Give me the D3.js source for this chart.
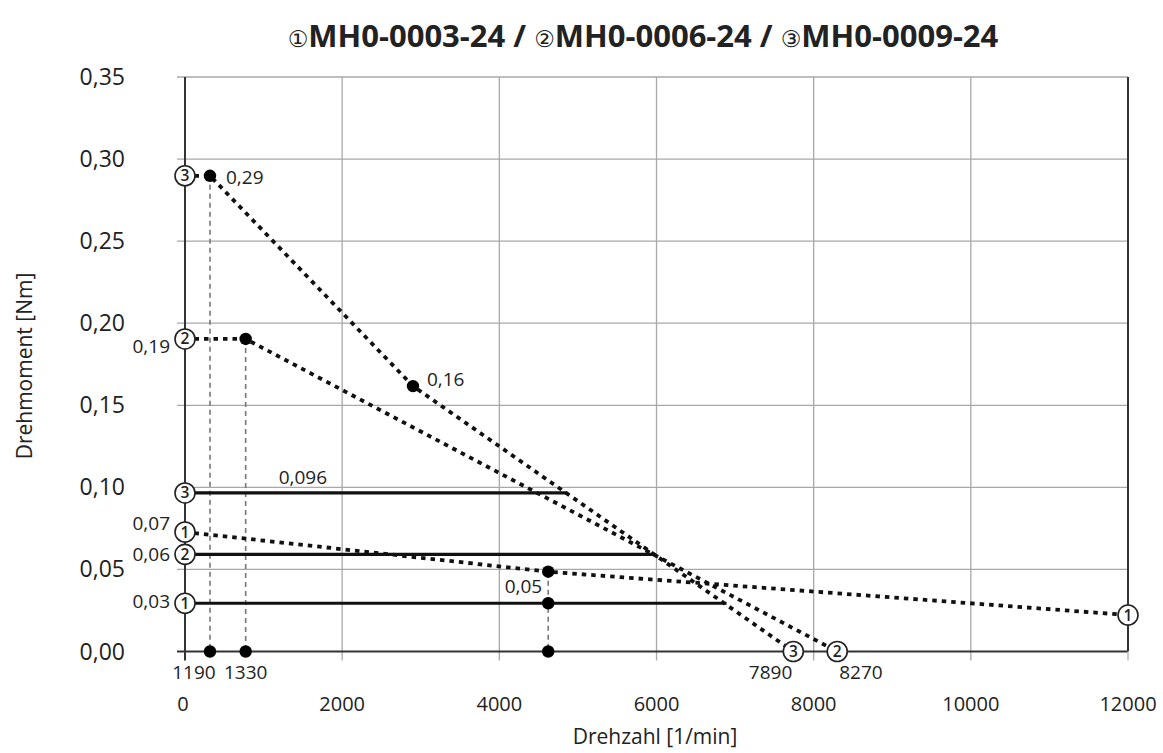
<!DOCTYPE html>
<html>
<head>
<meta charset="utf-8">
<script src="https://cdn.jsdelivr.net/npm/d3@7"></script>
<style>
  body { margin: 0; background: #fff; }
  text { font-family: "Open Sans", "DejaVu Sans", sans-serif; fill: #222; }
</style>
</head>
<body>
<svg id="chart" width="1163" height="753"></svg>
<script>
// chart values
const speedTicks = [0, 2000, 4000, 6000, 8000, 10000, 12000];
const torqueTicks = [0, 0.05, 0.10, 0.15, 0.20, 0.25, 0.30, 0.35];
const torqueTickLabels = ["0,00", "0,05", "0,10", "0,15", "0,20", "0,25", "0,30", "0,35"];

const titleParts = [["①", "MH0-0003-24 / "], ["②", "MH0-0006-24 / "], ["③", "MH0-0009-24"]];

// dotted characteristic curves, one per motor
const curve1Speed = [0, 4622, 12000];
const curve1Torque = [0.0728, 0.0486, 0.0222];
const curve2Speed = [0, 772, 8300];
const curve2Torque = [0.1904, 0.1904, 0];
const curve3Speed = [0, 318, 2901, 7741];
const curve3Torque = [0.2898, 0.2898, 0.1617, 0];

// solid continuous torque lines
const limitSeries = ["1", "2", "3"];
const limitSpeed = [6892, 5980, 4860];
const limitTorque = [0.0294, 0.0592, 0.0966];

// black dots
const dotSpeed = [318, 772, 2901, 4622, 4622, 4622, 318, 772];
const dotTorque = [0.2898, 0.1904, 0.1617, 0.0486, 0.0294, 0, 0, 0];

// dashed drop lines
const dropSpeed = [318, 772, 4622];
const dropTorque = [0.2898, 0.1904, 0.0486];

// numbered circle markers
const markerLabel = ["3", "2", "3", "1", "2", "1", "1", "3", "2"];
const markerSpeed = [0, 0, 0, 0, 0, 0, 12000, 7741, 8300];
const markerTorque = [0.2898, 0.1904, 0.0966, 0.0728, 0.0592, 0.0294, 0.0222, 0, 0];

// value annotations
const annoText = ["0,29", "0,19", "0,16", "0,096", "0,07", "0,06", "0,03", "0,05", "1190", "1330", "7890", "8270"];
const annoSpeed = [318, 0, 2901, 1500, 0, 0, 0, 4622, 318, 772, 7741, 8300];
const annoTorque = [0.2898, 0.1904, 0.1617, 0.0966, 0.0728, 0.0592, 0.0294, 0.0486, 0, 0, 0, 0];

const svg = d3.select("#chart");

const x = d3.scaleLinear().domain([0, 12000]).range([185, 1128]);
const y = d3.scaleLinear().domain([0, 0.35]).range([651.5, 77]);

// grid
svg.append("g").selectAll("line.v")
  .data(speedTicks.slice(1, -1))
  .enter().append("line")
  .attr("x1", d => x(d)).attr("x2", d => x(d))
  .attr("y1", y(0.35)).attr("y2", y(0) + 9)
  .attr("stroke", "#a8a8a8").attr("stroke-width", 1.3);

svg.append("g").selectAll("line.h")
  .data(torqueTicks)
  .enter().append("line")
  .attr("x1", x(0) - 8).attr("x2", x(12000))
  .attr("y1", d => y(d)).attr("y2", d => y(d))
  .attr("stroke", d => d === 0 ? "#333" : "#a8a8a8")
  .attr("stroke-width", d => d === 0 ? 2 : 1.3);

// frame
svg.append("line")
  .attr("x1", x(0)).attr("x2", x(0)).attr("y1", y(0.35)).attr("y2", y(0) + 9)
  .attr("stroke", "#333").attr("stroke-width", 2);
svg.append("line")
  .attr("x1", x(12000)).attr("x2", x(12000)).attr("y1", y(0.35)).attr("y2", y(0))
  .attr("stroke", "#333").attr("stroke-width", 2);
svg.append("line")
  .attr("x1", x(12000)).attr("x2", x(12000)).attr("y1", y(0)).attr("y2", y(0) + 9)
  .attr("stroke", "#bbb").attr("stroke-width", 1.5);

// tick labels
svg.append("g").selectAll("text")
  .data(torqueTicks)
  .enter().append("text")
  .attr("x", 125).attr("y", d => y(d) + 8)
  .attr("text-anchor", "end")
  .style("font-size", "23px")
  .text((d, i) => torqueTickLabels[i]);

svg.append("g").selectAll("text")
  .data(speedTicks)
  .enter().append("text")
  .attr("x", d => x(d) - (d === 0 ? 2 : 0)).attr("y", 711)
  .attr("text-anchor", "middle")
  .style("font-size", "20px")
  .text(d => d);

// axis titles
svg.append("text")
  .attr("transform", "translate(32,366) rotate(-90)")
  .attr("text-anchor", "middle")
  .style("font-size", "21px")
  .text("Drehmoment [Nm]");

svg.append("text")
  .attr("x", 655).attr("y", 744)
  .attr("text-anchor", "middle")
  .style("font-size", "21px")
  .text("Drehzahl [1/min]");

// title
const title = svg.append("text")
  .attr("x", 643).attr("y", 47)
  .attr("text-anchor", "middle")
  .style("font-weight", "bold")
  .style("font-size", "31px");
titleParts.forEach(p => {
  title.append("tspan").style("font-size", "23px").style("font-weight", "normal").text(p[0]);
  title.append("tspan").text(p[1]);
});

// drop lines
svg.append("g").selectAll("line")
  .data(dropSpeed)
  .enter().append("line")
  .attr("x1", d => x(d)).attr("x2", d => x(d))
  .attr("y1", (d, i) => y(dropTorque[i])).attr("y2", y(0))
  .attr("stroke", "#777").attr("stroke-width", 1.6)
  .attr("stroke-dasharray", "5,4");

// continuous torque lines
svg.append("g").selectAll("line")
  .data(limitSeries)
  .enter().append("line")
  .attr("x1", x(0)).attr("x2", (d, i) => x(limitSpeed[i]))
  .attr("y1", (d, i) => y(limitTorque[i])).attr("y2", (d, i) => y(limitTorque[i]))
  .attr("stroke", "#111").attr("stroke-width", 3.2);

// dotted curves
const line = d3.line().x(d => x(d[0])).y(d => y(d[1]));
const curves = [
  d3.zip(curve1Speed, curve1Torque),
  d3.zip(curve2Speed, curve2Torque),
  d3.zip(curve3Speed, curve3Torque)
];
svg.append("g").selectAll("path")
  .data(curves)
  .enter().append("path")
  .attr("d", line)
  .attr("fill", "none")
  .attr("stroke", "#111").attr("stroke-width", 3.8)
  .attr("stroke-dasharray", "4.5,5");

// dots
svg.append("g").selectAll("circle")
  .data(dotSpeed)
  .enter().append("circle")
  .attr("cx", d => x(d)).attr("cy", (d, i) => y(dotTorque[i]))
  .attr("r", 6.2).attr("fill", "#000");

// numbered markers
const markers = svg.append("g").selectAll("g")
  .data(markerLabel)
  .enter().append("g")
  .attr("transform", (d, i) => `translate(${x(markerSpeed[i])},${y(markerTorque[i])})`);
markers.append("circle")
  .attr("r", 10).attr("fill", "#fff").attr("stroke", "#222").attr("stroke-width", 1.6);
markers.append("text")
  .attr("text-anchor", "middle").attr("y", 5.5)
  .style("font-size", "15.5px").style("font-weight", "600")
  .text(d => d);

// annotations: offsets and anchors per label
const annoLayout = [
  [16, 8, "start"], [-15, 14, "end"], [14, 0, "start"], [0, -9, "middle"],
  [-15, -2, "end"], [-15, 7, "end"], [-15, 5, "end"], [-6, 21, "end"],
  [-16, 27, "middle"], [0, 27, "middle"], [-1, 27, "end"], [2, 27, "start"]
];
svg.append("g").selectAll("text")
  .data(annoText)
  .enter().append("text")
  .attr("x", (d, i) => x(annoSpeed[i]) + annoLayout[i][0])
  .attr("y", (d, i) => y(annoTorque[i]) + annoLayout[i][1])
  .attr("text-anchor", (d, i) => annoLayout[i][2])
  .style("font-size", "19px")
  .text(d => d);
</script>
</body>
</html>
